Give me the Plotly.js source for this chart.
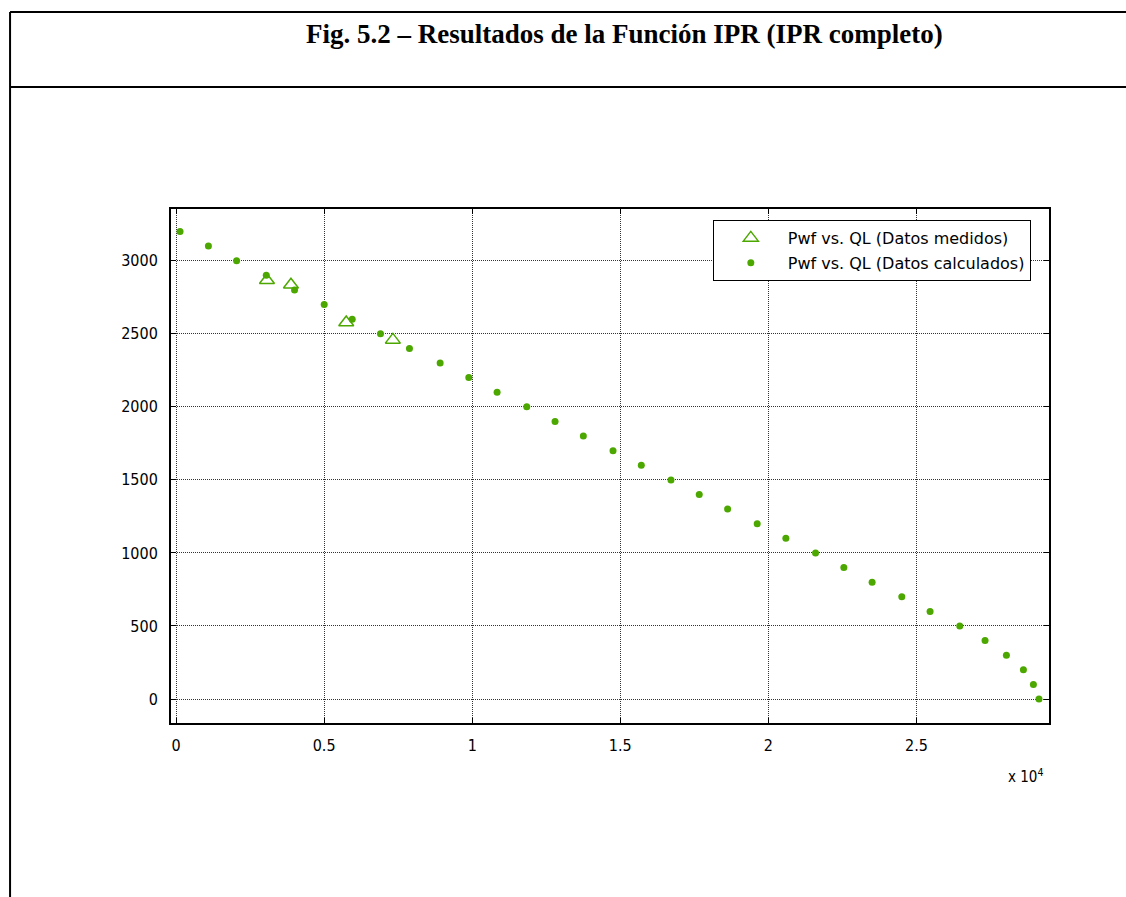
<!DOCTYPE html>
<html>
<head>
<meta charset="utf-8">
<script src="https://cdn.plot.ly/plotly-3.0.1.min.js"></script>
<style>html,body{margin:0;padding:0;background:#fff;}#chart{width:1126px;height:897px;}</style>
</head>
<body>
<div id="chart"></div>
<script>
// Calculated data (QL, Pwf)
var calcQL = [135,1093,2045,3047,4001,5003,5948,6903,7881,8917,9885,10840,11842,12797,13752,14754,15709,16711,17665,18623,19622,20590,21592,22547,23502,24504,25459,26461,27315,28036,28610,28947,29136];
var calcPwf = [3200,3100,3000,2900,2800,2700,2600,2500,2400,2300,2200,2100,2000,1900,1800,1700,1600,1500,1400,1300,1200,1100,1000,900,800,700,600,500,400,300,200,100,0];
// Measured data
var measQL = [3070,3880,5746,7321];
var measPwf = [2866,2835,2577,2458];
// Ticks
var xTickVals = [0,5000,10000,15000,20000,25000];
var xTickText = ["0","0.5","1","1.5","2","2.5"];
var yTickVals = [0,500,1000,1500,2000,2500,3000];
var yTickText = ["0","500","1000","1500","2000","2500","3000"];
var seriesNames = ["Pwf vs. QL (Datos medidos)","Pwf vs. QL (Datos calculados)"];
var titleText = "Fig. 5.2 – Resultados de la Función IPR (IPR completo)";

var green = "#4ca800";
// plot area pixel geometry
var L = 171, R = 1049.3, T = 209, B = 722.7, W = 1126, H = 897;
function px(X){ return (X - L)/(R - L); }
function py(Y){ return (B - Y)/(B - T); }

var traces = [
  {x: measQL, y: measPwf, type: "scatter", mode: "markers", name: seriesNames[0], legendgroup: "a",
   marker: {symbol: "triangle-up-open", size: 13, color: green, line: {width: 1.5, color: green}}},
  {x: calcQL, y: calcPwf, type: "scatter", mode: "markers", name: seriesNames[1], legendgroup: "b",
   marker: {symbol: "circle", size: 7, color: green}}
];

var axisCommon = {
  showline: true, linecolor: "#000", linewidth: 2, mirror: "allticks",
  ticks: "inside", ticklen: 5, tickcolor: "#000", tickwidth: 1,
  showgrid: true, gridcolor: "#333", griddash: "1px,1px", gridwidth: 1,
  zeroline: false,
  tickfont: {family: "DejaVu Sans Condensed, DejaVu Sans", size: 16, color: "#000"}
};

var layout = {
  width: W, height: H,
  paper_bgcolor: "#fff", plot_bgcolor: "#fff",
  margin: {l: L, r: W - R, t: T, b: H - B, pad: 0},
  showlegend: true,
  legend: {
    x: px(713), y: py(220), xanchor: "left", yanchor: "top",
    bgcolor: "#fff", bordercolor: "#000", borderwidth: 1,
    font: {family: "DejaVu Sans", size: 16, color: "#000"},
    traceorder: "grouped", tracegroupgap: 1, itemwidth: 64
  },
  xaxis: Object.assign({}, axisCommon, {
    range: [-170, 29474], tickmode: "array", tickvals: xTickVals, ticktext: xTickText,
    ticklabelstandoff: 7
  }),
  yaxis: Object.assign({}, axisCommon, {
    range: [-164, 3354], tickmode: "array", tickvals: yTickVals, ticktext: yTickText,
    ticklabelstandoff: 8
  }),
  shapes: [
    {type: "line", xref: "paper", yref: "paper", x0: px(10), x1: px(1130), y0: py(12), y1: py(12), line: {color: "#000", width: 2}},
    {type: "line", xref: "paper", yref: "paper", x0: px(10), x1: px(1130), y0: py(87), y1: py(87), line: {color: "#000", width: 2}},
    {type: "line", xref: "paper", yref: "paper", x0: px(10), x1: px(10), y0: py(12), y1: py(900), line: {color: "#000", width: 2}}
  ],
  annotations: [
    {text: "<b>" + titleText + "</b>", xref: "paper", yref: "paper", x: px(625), y: py(34),
     xanchor: "center", yanchor: "middle", showarrow: false,
     font: {family: "Liberation Serif", size: 27, color: "#000"}},
    {text: "x 10<sup>4</sup>", xref: "paper", yref: "paper", x: px(1045), y: py(776),
     xanchor: "right", yanchor: "middle", showarrow: false,
     font: {family: "DejaVu Sans Condensed, DejaVu Sans", size: 15, color: "#000"}}
  ]
};

Plotly.newPlot("chart", traces, layout, {displayModeBar: false, staticPlot: true});
</script>
</body>
</html>
